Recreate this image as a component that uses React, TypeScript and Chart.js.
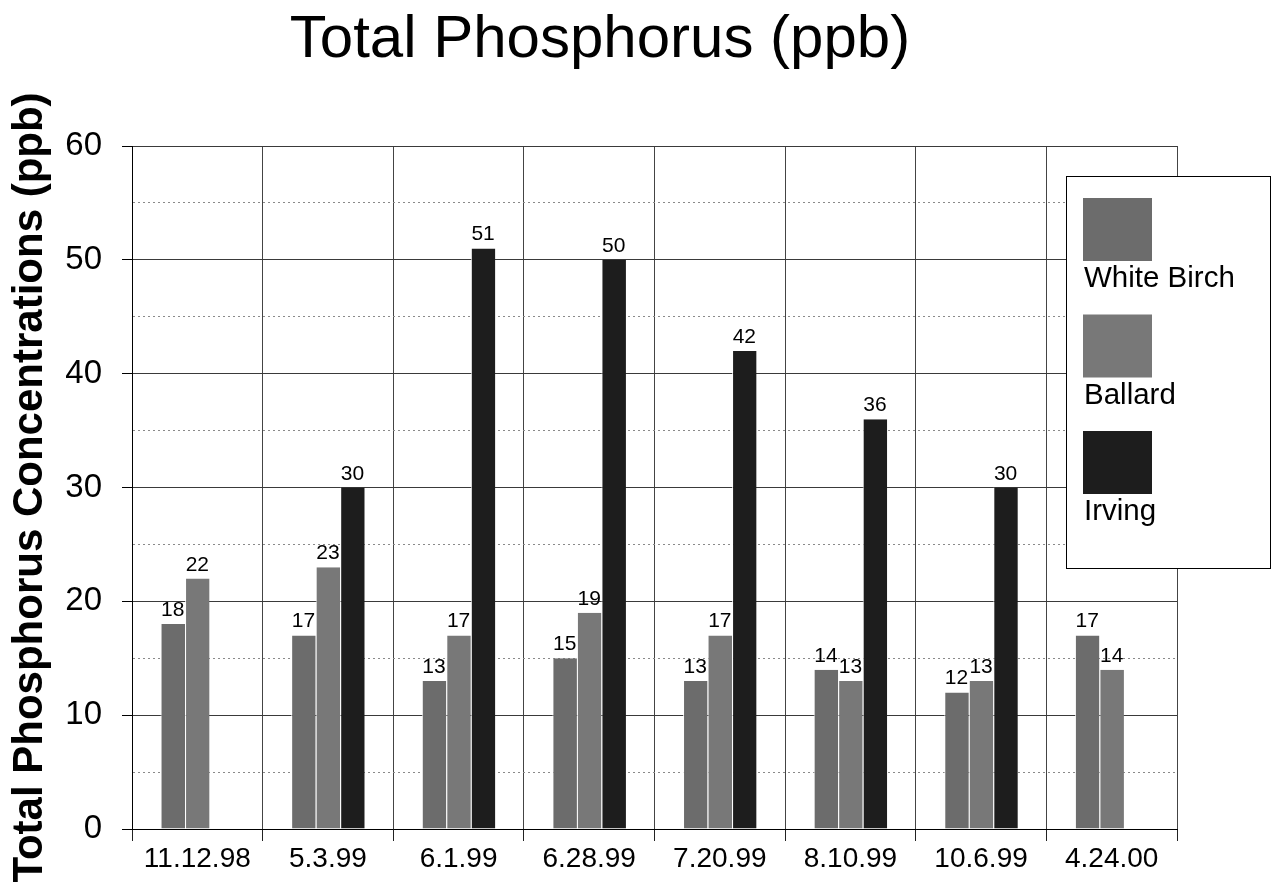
import React, { useEffect, useRef } from "react";
import { Chart, registerables } from "chart.js";

Chart.register(...registerables);

// Sampling dates and total phosphorus readings (ppb) per site
const sampleDates = ["11.12.98", "5.3.99", "6.1.99", "6.28.99", "7.20.99", "8.10.99", "10.6.99", "4.24.00"];
const whiteBirch = [18, 17, 13, 15, 13, 14, 12, 17];
const ballard = [22, 23, 17, 19, 17, 13, 13, 14];
const irving = [null, 30, 51, 50, 42, 36, 30, null];
const siteNames = ["White Birch", "Ballard", "Irving"];
const siteColors = ["#6c6c6c", "#787878", "#1d1d1d"];
const chartTitle = "Total Phosphorus (ppb)";
const yAxisTitle = "Total Phosphorus Concentrations (ppb)";

const FONT = "'Liberation Sans', Arial, Helvetica, sans-serif";

// Large heading above the plot
const heading = {
  id: "heading",
  afterDraw(chart: any) {
    const ctx = chart.ctx;
    ctx.save();
    ctx.font = `60px ${FONT}`;
    ctx.fillStyle = "#000";
    ctx.textAlign = "center";
    ctx.textBaseline = "alphabetic";
    ctx.fillText(chartTitle, 600, 57);
    ctx.restore();
  },
};

// Numbers printed above each bar
const valueLabels = {
  id: "valueLabels",
  afterDatasetsDraw(chart: any) {
    const ctx = chart.ctx;
    ctx.save();
    ctx.font = `21px ${FONT}`;
    ctx.fillStyle = "#000";
    ctx.textAlign = "center";
    ctx.textBaseline = "alphabetic";
    chart.data.datasets.forEach((ds: any, i: number) => {
      const meta = chart.getDatasetMeta(i);
      meta.data.forEach((bar: any, j: number) => {
        const v = ds.data[j];
        if (v === null || v === undefined) return;
        ctx.fillText(String(v), bar.x, bar.y - 8);
      });
    });
    ctx.restore();
  },
};

// Boxed legend with the swatch stacked above each site name
const stackedLegend = {
  id: "stackedLegend",
  afterDraw(chart: any) {
    const ctx = chart.ctx;
    const boxX = 1066.5;
    const boxY = 176.5;
    const boxW = 204;
    const boxH = 392;
    ctx.save();
    ctx.fillStyle = "#fff";
    ctx.fillRect(boxX, boxY, boxW, boxH);
    ctx.strokeStyle = "#000";
    ctx.lineWidth = 1;
    ctx.strokeRect(boxX, boxY, boxW, boxH);
    ctx.font = `29.5px ${FONT}`;
    ctx.textAlign = "left";
    ctx.textBaseline = "alphabetic";
    chart.data.datasets.forEach((ds: any, i: number) => {
      const top = 198 + i * 116.5;
      ctx.fillStyle = ds.backgroundColor;
      ctx.fillRect(1083, top, 69, 63);
      ctx.fillStyle = "#000";
      ctx.fillText(ds.label, 1084, top + 89);
    });
    ctx.restore();
  },
};

export default function App() {
  const canvasRef = useRef<HTMLCanvasElement | null>(null);

  useEffect(() => {
    if (!canvasRef.current) return;
    const series = [whiteBirch, ballard, irving];
    const chart = new Chart(canvasRef.current, {
      type: "bar",
      data: {
        labels: sampleDates,
        datasets: series.map((data, i) => ({
          label: siteNames[i],
          data,
          backgroundColor: siteColors[i],
          borderColor: "rgba(255,255,255,0.85)",
          borderWidth: { left: 1, top: 0, right: 0, bottom: 0 },
          borderSkipped: false,
          categoryPercentage: 0.563,
          barPercentage: 1,
        })),
      },
      options: {
        responsive: false,
        animation: false,
        layout: { padding: { left: 0, right: 95, top: 146, bottom: 0 } },
        plugins: {
          legend: { display: false },
          tooltip: { enabled: false },
          title: { display: false },
        },
        scales: {
          x: {
            grid: {
              offset: true,
              color: "#444",
              lineWidth: 1,
              tickLength: 12,
              tickColor: "#222",
            },
            border: { color: "#000", width: 1 },
            ticks: {
              color: "#000",
              padding: 1,
              font: { family: FONT, size: 28 },
              maxRotation: 0,
            },
            afterFit(scale: any) {
              scale.height = 55;
            },
          },
          y: {
            min: 0,
            max: 60,
            ticks: {
              stepSize: 5,
              color: "#000",
              padding: 20,
              font: { family: FONT, size: 33 },
              callback: (v: any) => (Number(v) % 10 === 0 ? String(v) : ""),
            },
            grid: {
              color: (c: any) => (c.tick && c.tick.value % 10 === 0 ? "#3a3a3a" : "#8a8a8a"),
              lineWidth: 1,
              tickLength: 10,
              tickColor: (c: any) => (c.tick && c.tick.value % 10 === 0 ? "#000" : "rgba(0,0,0,0)"),
            },
            border: {
              color: "#000",
              width: 1,
              dash: (c: any) => (c.tick && c.tick.value % 10 === 0 ? [] : [2, 3]),
            },
            title: {
              display: true,
              text: yAxisTitle,
              color: "#000",
              font: { family: FONT, size: 42, weight: "bold" },
              padding: { top: 5, bottom: 0 },
            },
            afterFit(scale: any) {
              scale.width = 132;
            },
          },
        },
      } as any,
      plugins: [valueLabels, stackedLegend, heading],
    });
    return () => chart.destroy();
  }, []);

  return (
    <div style={{ position: "fixed", left: 0, top: 0, width: 1272, height: 884, background: "#fff" }}>
      <canvas ref={canvasRef} width={1272} height={884} style={{ display: "block" }} />
    </div>
  );
}
